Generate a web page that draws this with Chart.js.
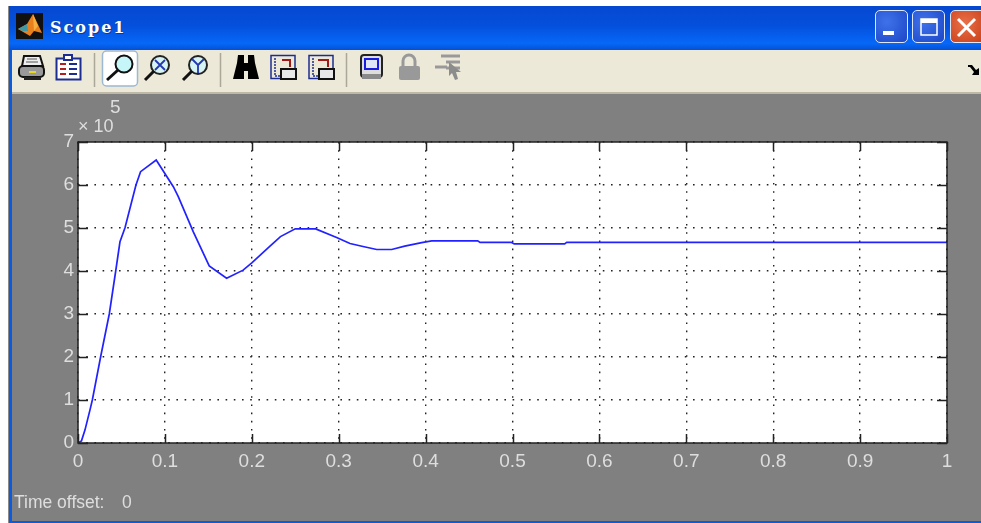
<!DOCTYPE html>
<html>
<head>
<meta charset="utf-8">
<title>Scope1</title>
<script src="https://cdn.jsdelivr.net/npm/chart.js@4"></script>
<style>
html, body { margin: 0; padding: 0; background: #fff; }
#page { position: relative; width: 981px; height: 523px; overflow: hidden; background: #fff; filter: blur(0.4px); }
#win { position: absolute; left: 8px; top: 6px; width: 973px; height: 517px; background: #0a5be0; border-left: 1px solid #8a8a8a; box-sizing: border-box; }
#title { position: absolute; left: 9px; top: 6px; width: 972px; height: 44px; background: linear-gradient(#0648d0 0%, #0450dc 45%, #0668f8 85%, #0450d4 100%); }
#name { position: absolute; left: 50px; top: 18px; color: #fff; font: bold 16px "DejaVu Serif", serif; letter-spacing: 2px; text-shadow: 1px 1px 0 #0a3a9a; }
#bar { position: absolute; left: 12px; top: 50px; width: 969px; height: 42px; background: #ece9d8; border-bottom: 2px solid #bdb9a6; }
#plot { position: absolute; left: 12px; top: 94px; width: 969px; height: 427px; background: #808080; }
#chartbox { position: absolute; left: 0; top: 0; width: 981px; height: 523px; }
#icons { position: absolute; left: 0; top: 0; }
.btn { position: absolute; top: 10px; height: 33px; border: 1px solid #dfe8fb; border-radius: 5px; box-sizing: border-box; background: radial-gradient(circle at 35% 35%, #3f72ea, #1c46c6); }
</style>
</head>
<body>
<div id="page">
  <div id="win"></div>
  <div id="title"></div>
  <div id="name">Scope1</div>
  <div id="bar"></div>
  <div id="plot"></div>
  <svg id="icons" width="981" height="100">
    <!-- matlab logo -->
    <rect x="16" y="13" width="27" height="26" fill="#111"/>
    <path d="M18 29 L27 24 L33 14 L42 33 L34 31 L30 36 Z" fill="#e8801e"/>
    <path d="M18 29 L27 24 L28 31 L23 31 Z" fill="#3f9aa8"/>
    <path d="M33 14 L38 26 L34 31 Z" fill="#f6b040"/>
    <!-- printer -->
    <path d="M24 56h16l3 10H22z" fill="#eee" stroke="#111" stroke-width="2"/>
    <path d="M27 59h10M26 62h12" stroke="#555" stroke-width="1"/>
    <rect x="19" y="66" width="25" height="11" rx="4" fill="#999" stroke="#111" stroke-width="2"/>
    <rect x="29" y="71" width="7" height="2" fill="#e8d820"/>
    <path d="M24 77h17v3H24z" fill="#222"/>
    <!-- clipboard -->
    <rect x="56.500" y="58.500" width="24" height="21" fill="#fff" stroke="#1c2c90" stroke-width="2"/>
    <rect x="64" y="55" width="8" height="5" fill="#fff" stroke="#1c2c90" stroke-width="2"/>
    <path d="M60 64h6M60 69h6M60 74h6" stroke="#b02020" stroke-width="2"/>
    <path d="M69 64h8M69 69h8M69 74h8" stroke="#1c2c90" stroke-width="2"/>
    <!-- separators -->
    <path d="M94.500 53V87M220.500 53V87M346.500 53V87" stroke="#aca899" stroke-width="1.500"/>
    <!-- zoom buttons -->
    <rect x="102.500" y="51" width="35" height="35" rx="4" fill="#fff" stroke="#9db8d2" stroke-width="1.500"/>
    <circle cx="124" cy="64" r="8.500" fill="#c6f6f8" stroke="#111" stroke-width="2"/>
    <path d="M118 70L107 80" stroke="#111" stroke-width="3"/>
    <circle cx="160" cy="65" r="9" fill="#d6f4f4" stroke="#222" stroke-width="2"/>
    <path d="M155 60L165 70M165 60L155 70" stroke="#2438b0" stroke-width="1.800"/>
    <path d="M154 71L145 80" stroke="#111" stroke-width="3"/>
    <circle cx="198" cy="65" r="9" fill="#d6f4f4" stroke="#222" stroke-width="2"/>
    <path d="M198 65V73M198 65L192 59M198 65L204 59" stroke="#2438b0" stroke-width="1.800"/>
    <path d="M192 71L183 80" stroke="#111" stroke-width="3"/>
    <!-- binoculars -->
    <path d="M238 55h6v8h4v-8h6l1 8 4 16h-11v-8h-4v8h-11l4-16z" fill="#000"/>
    <!-- save / load axes -->
    <g fill="none">
      <rect x="271" y="55.500" width="24" height="23" stroke="#1c2c90" stroke-width="1.500"/>
      <path d="M275 58v18h6" stroke="#1c2c90" stroke-width="1.500" stroke-dasharray="2 1"/>
      <path d="M282 60h8v7" stroke="#a01818" stroke-width="2"/>
      <rect x="281" y="69" width="15" height="10" fill="#e8e8e8" stroke="#111" stroke-width="2"/>
      <rect x="309" y="55.500" width="24" height="23" stroke="#1c2c90" stroke-width="1.500"/>
      <path d="M313 58v18h6" stroke="#1c2c90" stroke-width="1.500" stroke-dasharray="2 1"/>
      <path d="M318 60h10v7" stroke="#a01818" stroke-width="2"/>
      <rect x="319" y="69" width="15" height="10" fill="#e8e8e8" stroke="#111" stroke-width="2"/>
    </g>
    <!-- chip -->
    <rect x="361" y="55" width="21" height="22" rx="3" fill="#ddd" stroke="#222" stroke-width="2"/>
    <rect x="365" y="59" width="13" height="10" fill="#dfe6f6" stroke="#1a1ae0" stroke-width="2"/>
    <rect x="362" y="74" width="19" height="5" fill="#8a8a8a"/>
    <!-- lock -->
    <path d="M403 67v-6a6 6 0 0 1 12 0v6" fill="none" stroke="#999" stroke-width="3"/>
    <rect x="399" y="66" width="21" height="14" rx="2" fill="#999"/>
    <!-- cursor tool -->
    <path d="M435 67h12M441 56h19M446 62h14M446 68h14" stroke="#999" stroke-width="3"/>
    <path d="M449 62L449 76L452 73L455 80L458 79L456 72L461 72Z" fill="#8c8c8c"/>
    <!-- toolbar overflow arrow -->
    <path d="M968 65h4l4 5 3-2v7h-7l2-3-4-5h-2z" fill="#000"/>
  </svg>
  <div class="btn" style="left:875px;width:33px"></div>
  <div class="btn" style="left:912px;width:33px"></div>
  <div class="btn" style="left:950px;width:36px;background:radial-gradient(circle at 40% 40%,#e8704a,#c83c14)"></div>
  <svg style="position:absolute;left:0;top:0" width="981" height="50">
    <rect x="883" y="31" width="11" height="4" fill="#fff"/>
    <rect x="921" y="19" width="16" height="16" fill="none" stroke="#fff" stroke-width="1.500"/>
    <rect x="921" y="19" width="16" height="4" fill="#fff"/>
    <path d="M958 19L975 36M975 19L958 36" stroke="#fff" stroke-width="3"/>
  </svg>
  <div id="chartbox"><canvas id="scope" width="981" height="523"></canvas></div>
</div>
<script>
const times = [0, 0.004, 0.008, 0.0138, 0.0165, 0.026, 0.036, 0.0434, 0.0483, 0.054, 0.0667, 0.072, 0.09, 0.1097, 0.1154, 0.1327, 0.151, 0.171, 0.19, 0.2, 0.22, 0.233, 0.25, 0.2735, 0.2976, 0.313, 0.328, 0.3437, 0.361, 0.376, 0.3955, 0.407, 0.46, 0.4626, 0.499, 0.502, 0.56, 0.5624, 1];
const signal = [0, 0.05, 0.3, 0.77, 1, 2, 3, 4, 4.68, 5, 6, 6.31, 6.58, 5.96, 5.73, 4.91, 4.12, 3.83, 4.02, 4.19, 4.56, 4.8, 4.98, 4.98, 4.78, 4.64, 4.57, 4.5, 4.5, 4.58, 4.66, 4.7, 4.7, 4.665, 4.665, 4.63, 4.63, 4.665, 4.665];
const xTicks = ['0', '0.1', '0.2', '0.3', '0.4', '0.5', '0.6', '0.7', '0.8', '0.9', '1'];
const yTicks = ['0', '1', '2', '3', '4', '5', '6', '7'];

const textCol = '#dedede';
const axisFont = { family: 'Liberation Sans', size: 19 };

// white plot background, black frame and the inside tick marks of a scope
const scopeFrame = {
    id: 'scopeFrame',
    beforeDraw(chart) {
        const a = chart.chartArea;
        chart.ctx.fillStyle = '#fff';
        chart.ctx.fillRect(a.left, a.top, a.width, a.height);
    },
    afterDraw(chart) {
        const { ctx, chartArea: a, scales } = chart;
        ctx.save();
        ctx.strokeStyle = '#222';
        ctx.lineWidth = 1.5;
        ctx.strokeRect(a.left, a.top, a.width, a.height);
        ctx.beginPath();
        xTicks.forEach((t, i) => {
            const px = Math.round(scales.x.getPixelForValue(i / 10)) + 0.5;
            ctx.moveTo(px, a.top); ctx.lineTo(px, a.top + 9);
            ctx.moveTo(px, a.bottom); ctx.lineTo(px, a.bottom - 9);
        });
        yTicks.forEach((t, i) => {
            const py = Math.round(scales.y.getPixelForValue(i)) + 0.5;
            ctx.moveTo(a.left, py); ctx.lineTo(a.left + 10, py);
            ctx.moveTo(a.right, py); ctx.lineTo(a.right - 10, py);
        });
        ctx.stroke();
        // exponent and the offset line under the axes
        ctx.fillStyle = textCol;
        ctx.textBaseline = 'alphabetic';
        ctx.font = '18px "Liberation Sans"';
        ctx.fillText('× 10', 78, 132);
        ctx.font = '19px "Liberation Sans"';
        ctx.fillText('5', 110, 113);
        ctx.font = '17.5px "Liberation Sans"';
        ctx.fillText('Time offset:', 14, 508);
        ctx.fillText('0', 122, 508);
        ctx.restore();
    }
};

new Chart(document.getElementById('scope').getContext('2d'), {
    type: 'line',
    plugins: [scopeFrame],
    data: {
        datasets: [{
            data: times.map((t, i) => ({ x: t, y: signal[i] })),
            borderColor: '#2222ff',
            borderWidth: 1.7,
            pointRadius: 0,
            tension: 0
        }]
    },
    options: {
        responsive: false,
        animation: false,
        layout: { padding: { top: 142, right: 34, left: 0, bottom: 0 } },
        plugins: { legend: { display: false }, tooltip: { enabled: false } },
        scales: {
            x: {
                type: 'linear',
                min: 0,
                max: 1,
                afterFit: s => { s.height = 80; },
                grid: { color: '#222', lineWidth: 1.4, drawTicks: false },
                border: { display: false, dash: [1.6, 6.6] },
                ticks: {
                    stepSize: 0.1,
                    autoSkip: false,
                    maxRotation: 0,
                    padding: 7,
                    color: textCol,
                    font: axisFont,
                    callback: (v, i) => xTicks[i]
                }
            },
            y: {
                min: 0,
                max: 7,
                afterFit: s => { s.width = 78; },
                grid: { color: '#222', lineWidth: 1.4, drawTicks: false },
                border: { display: false, dash: [1.6, 6.6] },
                ticks: {
                    stepSize: 1,
                    padding: 4,
                    color: textCol,
                    font: axisFont,
                    callback: (v, i) => yTicks[i]
                }
            }
        }
    }
});
</script>
</body>
</html>
